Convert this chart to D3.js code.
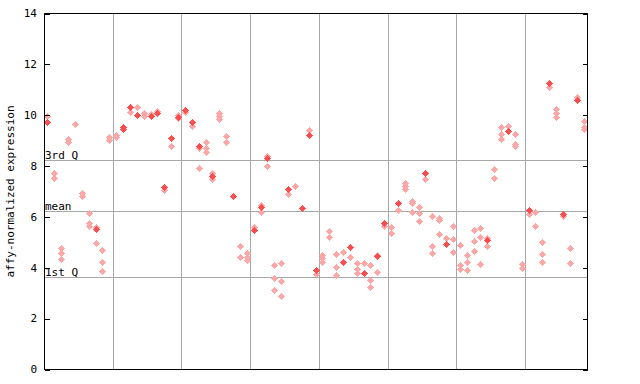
<!DOCTYPE html>
<html><head><meta charset="utf-8">
<script src="https://cdn.jsdelivr.net/npm/d3@7"></script>
<style>
body{margin:0;background:#fff}
svg{display:block}
text{font-family:"DejaVu Sans Mono",monospace;font-size:11px;fill:#000}
</style>
</head><body>
<svg id="chart" width="640" height="384"></svg>
<script>
// per-sample replicate values (hatched markers)
const hatchedValues = [
  [9.96],[7.70,7.50],[4.75,4.58,4.33],[9.06,8.91],[9.63],[6.94,6.81],[6.13,5.74,5.64],[5.59,4.95],[4.69,4.20,3.86],[9.12,9.02],
  [9.21,9.11],[],[10.09],[10.30],[10.05,9.93],[10.04],[10.13],[7.05],[8.77],[10.00,9.87],
  [10.09],[9.54],[8.69,7.90],[8.92,8.68,8.53],[7.70,7.47],[10.07,9.95,9.83],[9.17,8.92],[],[4.83,4.40],[4.55,4.42,4.29],
  [5.58],[6.46,6.18],[8.37,7.99],[4.08,3.58,3.10],[4.16,3.45,2.86],[6.90],[7.19],[],[9.41],[3.74],
  [4.49,4.36,4.22],[5.43,5.18],[4.51,4.00,3.69],[4.59],[4.40],[4.16,3.94,3.77],[4.16],[4.08,3.49,3.22],[4.50,3.81],[5.63],
  [5.58,5.34],[6.25],[7.33,7.20,7.07],[6.62,6.51,6.17],[6.36,6.13,5.81],[7.49],[6.01,4.83,4.55],[5.94,5.84,5.30],[5.14],[5.62,5.10,4.59],
  [4.87,4.08,3.92],[4.48,4.20,3.89],[5.46,5.03,4.63],[5.54,5.18,4.12],[5.17,4.84],[7.86,7.50],[9.51,9.24,9.04],[9.54],[9.24,8.85,8.77],[4.12,3.99],
  [6.09],[6.17,5.63],[4.98,4.51,4.20],[11.09],[10.22,10.06,9.91],[6.00],[4.75,4.16],[10.70],[9.75,9.51,9.45]
];
// per-sample replicate values (solid markers)
const filledValues = [
  [9.70],[],[],[],[],[],[],[5.50],[],[],
  [],[9.50,9.44],[10.30],[10.00],[],[9.95],[10.05],[7.14],[9.07],[9.92],
  [10.17],[9.70],[8.78],[],[7.60],[],[],[6.82],[],[],
  [5.47],[6.39],[8.29],[],[],[7.06],[],[6.35],[9.21],[3.90],
  [],[],[],[4.22],[4.80],[],[3.78],[],[4.43],[5.76],
  [],[6.51],[],[],[],[7.69],[],[],[4.93],[],
  [],[],[],[],[5.08],[],[],[9.37],[],[],
  [6.25],[],[],[11.24],[],[6.09],[],[10.56],[]
];
const yTicks = [0,2,4,6,8,10,12,14];
const quartileLabels = ["3rd Q","mean","1st Q"];
const quartileValues = [8.21,6.22,3.62];
const groupBoundaries = [9.5,19.5,29.5,39.5,49.5,59.5,69.5];
const yTitle = "affy-normalized expression";

const red = "#ff4d4d";
const svg = d3.select("#chart");
const n = hatchedValues.length;
const x = d3.scaleLinear().domain([-0.5, n - 0.5]).range([44.5, 587.5]);
const y = d3.scaleLinear().domain([0, 14]).range([369.5, 13.5]);
const px = v => Math.floor(v) + 0.5;

const defs = svg.append("defs");
const pat = defs.append("pattern").attr("id","hatch").attr("patternUnits","userSpaceOnUse")
  .attr("width",2).attr("height",2);
pat.append("rect").attr("width",2).attr("height",2).attr("fill","#fff");
pat.append("rect").attr("x",0).attr("y",0).attr("width",1).attr("height",1).attr("fill",red);
pat.append("rect").attr("x",1).attr("y",1).attr("width",1).attr("height",1).attr("fill",red);

const [x0, x1] = x.range();
const [yb, yt] = y.range();

// vertical group separators
svg.append("g").selectAll("line").data(groupBoundaries).join("line")
  .attr("x1", d => px(x(d))).attr("x2", d => px(x(d)))
  .attr("y1", yt).attr("y2", yb)
  .attr("stroke","#a8a8a8").attr("stroke-width",1).attr("shape-rendering","crispEdges");

// quartile lines
svg.append("g").selectAll("line").data(quartileValues).join("line")
  .attr("x1", x0).attr("x2", x1)
  .attr("y1", d => px(y(d))).attr("y2", d => px(y(d)))
  .attr("stroke","#a8a8a8").attr("stroke-width",1).attr("shape-rendering","crispEdges");

svg.append("g").selectAll("text").data(quartileLabels).join("text")
  .attr("x", 45).attr("y", (d,i) => Math.floor(y(quartileValues[i])) - 1)
  .text(d => d);

// points
const diamond = "M0,-3.5L3.5,0L0,3.5L-3.5,0Z";
const hatchedPts = hatchedValues.flatMap((arr,i) => arr.map(v => ({i, v})));
const filledPts = filledValues.flatMap((arr,i) => arr.map(v => ({i, v})));
svg.append("g").selectAll("path").data(hatchedPts).join("path")
  .attr("d", diamond)
  .attr("transform", d => `translate(${Math.floor(x(d.i))+0.5},${Math.floor(y(d.v))+0.5})`)
  .attr("fill","url(#hatch)").attr("shape-rendering","crispEdges");
svg.append("g").selectAll("path").data(filledPts).join("path")
  .attr("d", diamond)
  .attr("transform", d => `translate(${Math.floor(x(d.i))+0.5},${Math.floor(y(d.v))+0.5})`)
  .attr("fill",red).attr("shape-rendering","crispEdges");

// frame
svg.append("rect").attr("x", x0).attr("y", yt).attr("width", x1 - x0).attr("height", yb - yt)
  .attr("fill","none").attr("stroke","#000").attr("stroke-width",1).attr("shape-rendering","crispEdges");

// left axis (ticks inside)
const left = svg.append("g").attr("transform", `translate(${x0},0)`)
  .call(d3.axisRight(y).tickValues(yTicks).tickSize(5).tickFormat(""));
left.select(".domain").remove();
left.selectAll("line").attr("shape-rendering","crispEdges");
svg.append("g").selectAll("text").data(yTicks).join("text")
  .attr("x", 37).attr("y", d => y(d)).attr("dy","0.35em").attr("text-anchor","end")
  .text(d => d);

// right axis (ticks inside)
const right = svg.append("g").attr("transform", `translate(${x1},0)`)
  .call(d3.axisLeft(y).tickValues(yTicks).tickSize(5).tickFormat(""));
right.select(".domain").remove();
right.selectAll("line").attr("shape-rendering","crispEdges");

// y title
svg.append("text").attr("transform", `translate(14,${(yt+yb)/2}) rotate(-90)`)
  .attr("text-anchor","middle").text(yTitle);
</script>
</body></html>
